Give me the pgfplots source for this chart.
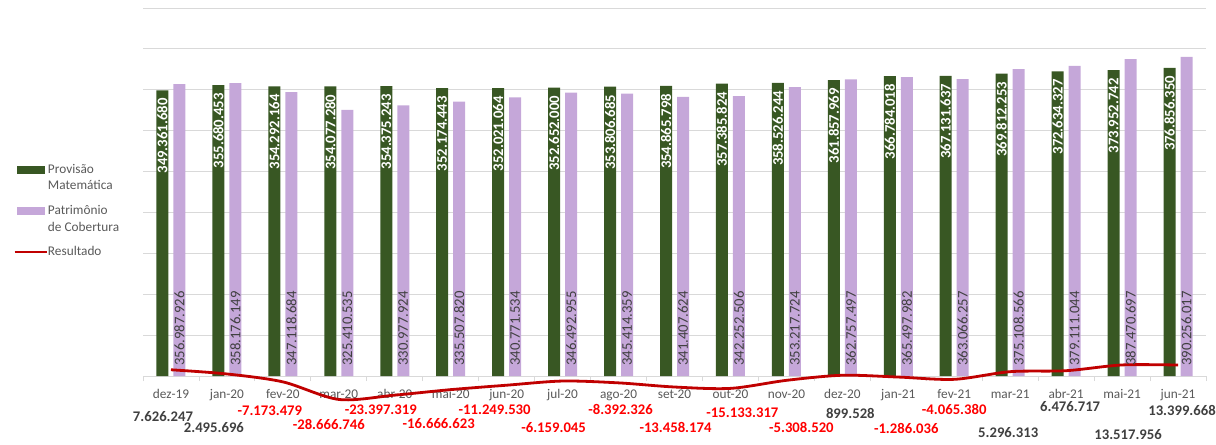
\documentclass[border=0pt]{standalone}
\usepackage{pgfplots}
\pgfplotsset{compat=1.18}
\usepackage{pgfplotstable}
\usepackage{fontspec}
\setmainfont{Carlito}

\definecolor{provgreen}{HTML}{385723}
\definecolor{patlav}{HTML}{C5A7D9}
\definecolor{linered}{HTML}{C00000}
\definecolor{resneg}{HTML}{FF0000}
\definecolor{respos}{HTML}{404040}
\definecolor{ticktext}{HTML}{595959}
\definecolor{gridgray}{HTML}{D9D9D9}

% Provisão Matemática and Patrimônio de Cobertura, month by month
\pgfplotstableread{
x  prov       provlab      pat        patlab
0  349361680  349.361.680  356987926  356.987.926
1  355680453  355.680.453  358176149  358.176.149
2  354292164  354.292.164  347118684  347.118.684
3  354077280  354.077.280  325410535  325.410.535
4  354375243  354.375.243  330977924  330.977.924
5  352174443  352.174.443  335507820  335.507.820
6  352021064  352.021.064  340771534  340.771.534
7  352652000  352.652.000  346492955  346.492.955
8  353806685  353.806.685  345414359  345.414.359
9  354865798  354.865.798  341407624  341.407.624
10 357385824  357.385.824  342252506  342.252.506
11 358526244  358.526.244  353217724  353.217.724
12 361857969  361.857.969  362757497  362.757.497
13 366784018  366.784.018  365497982  365.497.982
14 367131637  367.131.637  363066257  363.066.257
15 369812253  369.812.253  375108566  375.108.566
16 372634327  372.634.327  379111044  379.111.044
17 373952742  373.952.742  387470697  387.470.697
18 376856350  376.856.350  390256017  390.256.017
}\bars

% Resultado, with the offset (pt) of each value label from its point
\pgfplotstableread{
x  res        reslab                          dx   dy
0  7626247    7.626.247                       -8   -47
1  2495696    2.495.696                       -13  -54
2  -7173479   \textcolor{resneg}{-7.173.479}  -13  -29
3  -28666746  \textcolor{resneg}{-28.666.746} -10  -25
4  -23397319  \textcolor{resneg}{-23.397.319} -14  -15
5  -16666623  \textcolor{resneg}{-16.666.623} -12  -34
6  -11249530  \textcolor{resneg}{-11.249.530} -12  -25
7  -6159045   \textcolor{resneg}{-6.159.045}  -9   -46
8  -8392326   \textcolor{resneg}{-8.392.326}  2    -27
9  -13458174  \textcolor{resneg}{-13.458.174} 1    -40
10 -15133317  \textcolor{resneg}{-15.133.317} 12   -24
11 -5308520   \textcolor{resneg}{-5.308.520}  15   -47
12 899528     899.528                         8    -38
13 -1286036   \textcolor{resneg}{-1.286.036}  8    -51
14 -4065380   \textcolor{resneg}{-4.065.380}  0    -30
15 5296313    5.296.313                       -2   -61
16 6476717    6.476.717                       4    -36
17 13517956   13.517.956                      6    -70
18 13399668   13.399.668                      4    -45
}\resultado

\begin{document}
\begin{tikzpicture}
\begin{axis}[
  name=main,
  scale only axis, width=1063pt, height=368pt,
  xmin=-0.5, xmax=18.5, ymin=0, ymax=450000000,
  ybar=5pt, bar width=12pt,
  clip=false,
  axis x line*=bottom, axis y line*=left,
  y axis line style={draw=none},
  x axis line style={draw=gridgray, line width=0.8pt},
  ytick={0,50000000,100000000,150000000,200000000,250000000,300000000,350000000,400000000,450000000},
  yticklabels={}, scaled y ticks=false,
  ymajorgrids, grid style={draw=gridgray, line width=0.8pt},
  ytick style={draw=none},
  xtick={0,...,18},
  xticklabels={dez-19,jan-20,fev-20,mar-20,abr-20,mai-20,jun-20,jul-20,ago-20,set-20,out-20,nov-20,dez-20,jan-21,fev-21,mar-21,abr-21,mai-21,jun-21},
  major x tick style={draw=none},
  minor xtick={-0.5,0.5,...,18.5},
  minor x tick style={draw=gridgray, line width=0.8pt},
  tick align=outside, minor tick length=5pt, major tick length=0pt,
  xticklabel style={font=\fontsize{13.3}{14}\selectfont, text=ticktext, yshift=-10pt},
  legend style={at={(-0.1223,0.576)}, anchor=north west, draw=none, fill=none,
    font=\fontsize{13.3}{16.5}\selectfont, text=ticktext,
    cells={align=left}, row sep=14pt, inner sep=0pt,
    nodes={inner sep=0pt},
    /tikz/every even column/.append style={column sep=4pt}},
  legend cell align=left,
]
\addplot[fill=provgreen, draw=none,
  legend image code/.code={\path (-2pt,0pt) (30pt,0pt);
    \fill[provgreen] (0pt,4pt) rectangle (28pt,12pt);},
  nodes near coords, point meta=explicit symbolic,
  nodes near coords style={yshift=-8pt, rotate=90, anchor=east,
    font=\bfseries\fontsize{14.7}{15}\selectfont, text=white,
    inner xsep=0pt, inner ysep=0pt}]
  table[x=x, y=prov, meta=provlab] {\bars};
\addlegendentry{Provisão\\Matemática}

\addplot[fill=patlav, draw=none,
  legend image code/.code={\path (-2pt,0pt) (30pt,0pt);
    \fill[patlav] (0pt,4pt) rectangle (28pt,12pt);},
  nodes near coords, point meta=explicit symbolic,
  visualization depends on={\thisrow{pat}*368/450000000 \as \barh},
  nodes near coords style={yshift=-\barh pt, rotate=90, anchor=west,
    font=\fontsize{14.7}{15}\selectfont, text=respos,
    inner xsep=10pt, inner ysep=0pt}]
  table[x=x, y=pat, meta=patlab] {\bars};
\addlegendentry{Patrimônio\\de Cobertura}

\addplot[linered, line width=2.8pt, smooth, mark=none,
  legend image code/.code={\draw[linered, line width=2.8pt] (-2pt,0pt) -- (30pt,0pt);},
  nodes near coords, point meta=explicit symbolic,
  visualization depends on={\thisrow{dx} \as \ldx},
  visualization depends on={\thisrow{dy} \as \ldy},
  nodes near coords style={anchor=center, xshift=\ldx pt, yshift=\ldy pt,
    text=respos, font=\bfseries\fontsize{14.7}{15}\selectfont}]
  table[x=x, y=res, meta=reslab] {\resultado};
\addlegendentry{Resultado}
\end{axis}
\pgfresetboundingbox
\path[use as bounding box] ([xshift=-143pt,yshift=-68pt]main.south west)
  rectangle ([xshift=10pt,yshift=8pt]main.north east);
\end{tikzpicture}
\end{document}
